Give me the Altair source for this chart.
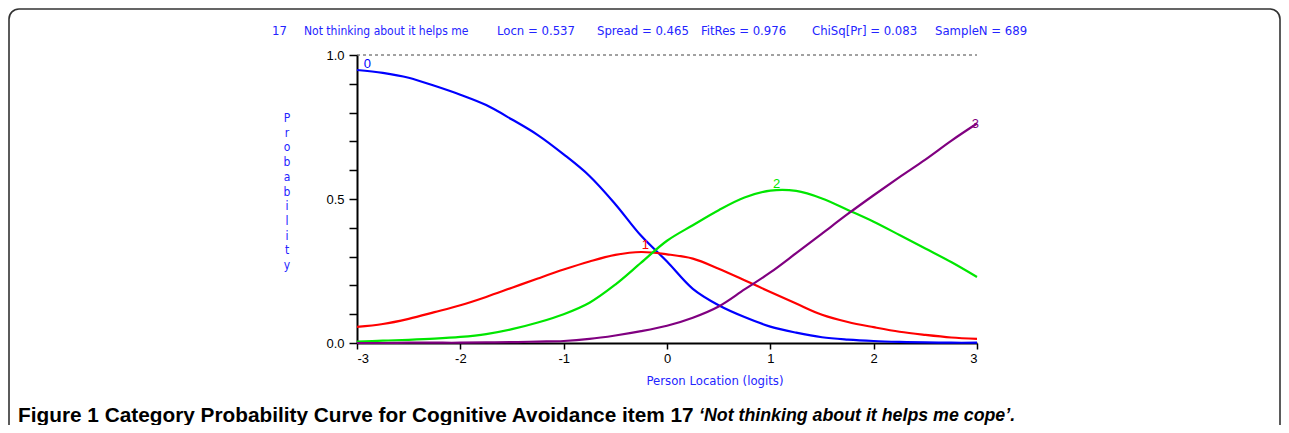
import altair as alt
import pandas as pd

# ---- data ----
x_vals = [-3.0, -2.75, -2.5, -2.25, -2.0, -1.75, -1.5, -1.25, -1.0, -0.75, -0.5, -0.25,
          0.0, 0.25, 0.5, 0.75, 1.0, 1.25, 1.5, 1.75, 2.0, 2.25, 2.5, 2.75, 3.0]
cat0 = [0.948, 0.938, 0.921, 0.893, 0.862, 0.826, 0.776, 0.722, 0.655, 0.580, 0.482, 0.372,
        0.283, 0.188, 0.131, 0.090, 0.057, 0.036, 0.020, 0.012, 0.007, 0.004, 0.002, 0.001, 0.001]
cat1 = [0.056, 0.066, 0.084, 0.107, 0.131, 0.160, 0.192, 0.224, 0.255, 0.283, 0.306, 0.316,
        0.308, 0.293, 0.258, 0.218, 0.177, 0.137, 0.098, 0.073, 0.055, 0.039, 0.028, 0.019, 0.014]
cat2 = [0.005, 0.008, 0.011, 0.015, 0.021, 0.031, 0.048, 0.071, 0.100, 0.140, 0.203, 0.279,
        0.355, 0.409, 0.461, 0.505, 0.529, 0.528, 0.502, 0.462, 0.421, 0.375, 0.328, 0.281, 0.229]
cat3 = [0.000, 0.000, 0.001, 0.001, 0.001, 0.002, 0.003, 0.005, 0.007, 0.014, 0.026, 0.041,
        0.060, 0.088, 0.127, 0.186, 0.245, 0.312, 0.380, 0.448, 0.513, 0.576, 0.637, 0.702, 0.762]

curve_names = ["0", "1", "2", "3"]
curve_colors = ["#0000FF", "#FF0000", "#00E600", "#800080"]

label_x = [-2.9, -0.21, 1.06, 2.985]
label_p = [0.969, 0.34, 0.552, 0.760]

x_ticks = [-3, -2, -1, 0, 1, 2, 3]
y_ticks = [0.0, 0.1, 0.2, 0.3, 0.4, 0.5, 0.6, 0.7, 0.8, 0.9, 1.0]

header_items = ["17", "Not thinking about it helps me", "Locn = 0.537", "Spread = 0.465",
                "FitRes = 0.976", "ChiSq[Pr] = 0.083", "SampleN = 689"]
header_offsets = [-85, -53, 140, 240, 344, 455, 578]
header_sizes = [13, 12, 13, 13, 13, 13, 13]

caption_main = "Figure 1 Category Probability Curve for Cognitive Avoidance item 17"
caption_item = "\u2018Not thinking about it helps me cope\u2019."
y_title = "Probability"
x_title = "Person Location (logits)"

# ---- tables ----
rows = []
for name, ys in zip(curve_names, [cat0, cat1, cat2, cat3]):
    for xv, yv in zip(x_vals, ys):
        rows.append({"loc": xv, "prob": yv, "cat": name})
df = pd.DataFrame(rows)
labels_df = pd.DataFrame({"loc": label_x, "prob": label_p, "cat": curve_names})

W, H = 620, 288
BLUE = "#2424ff"
HFONT = "Liberation Sans Narrow, Arial Narrow, DejaVu Sans Condensed, sans-serif"

xscale = alt.Scale(domain=[-3, 3], nice=False, zero=False)
yscale = alt.Scale(domain=[0, 1], nice=False)
cscale = alt.Scale(domain=curve_names, range=curve_colors)

x_axis = alt.Axis(values=x_ticks, labelExpr="'' + datum.value", grid=False,
                  domainColor="black", domainWidth=2, tickColor="black", tickWidth=1.5,
                  tickSize=6, labelPadding=3, labelFont="Liberation Sans", labelFontSize=13,
                  labelColor="black", labelOverlap=False, title=None)
y_axis = alt.Axis(values=y_ticks,
                  labelExpr="abs(datum.value*2 - round(datum.value*2)) < 0.001 ? format(datum.value, '.1f') : ''",
                  grid=False, domainColor="black", domainWidth=2, tickColor="black",
                  tickWidth=1.5, tickSize=8, labelPadding=5, labelFont="Liberation Sans",
                  labelFontSize=13, labelColor="black", labelOverlap=False, title=None)

base = alt.Chart(df)

border = alt.Chart(pd.DataFrame({"a": [0]})).mark_rect(
    fillOpacity=0, stroke="#333333", strokeWidth=1.6, cornerRadius=10
).encode(x=alt.value(-348), x2=alt.value(923), y=alt.value(-46), y2=alt.value(600))

lines = base.mark_line(strokeWidth=2.2, interpolate="catmull-rom").encode(
    x=alt.X("loc:Q", scale=xscale, axis=x_axis),
    y=alt.Y("prob:Q", scale=yscale, axis=y_axis),
    color=alt.Color("cat:N", scale=cscale, legend=None),
)

top_rule = alt.Chart(pd.DataFrame({"a": [0]})).mark_rule(
    color="#444444", strokeDash=[3, 3], strokeWidth=1
).encode(y=alt.datum(1, scale=yscale, axis=y_axis), x=alt.value(0), x2=alt.value(W))

curve_labels = alt.Chart(labels_df).mark_text(
    font="Liberation Sans", fontSize=13, baseline="middle"
).encode(
    x=alt.X("loc:Q", scale=xscale, axis=x_axis),
    y=alt.Y("prob:Q", scale=yscale, axis=y_axis),
    text="cat:N",
    color=alt.Color("cat:N", scale=cscale, legend=None),
)

layers = [border, lines, top_rule, curve_labels]

for item, off, sz in zip(header_items, header_offsets, header_sizes):
    layers.append(
        alt.Chart(pd.DataFrame({"a": [0]})).mark_text(
            font=HFONT, fontSize=sz, color=BLUE, align="left", baseline="middle"
        ).encode(x=alt.value(off), y=alt.value(-24), text=alt.value(item))
    )

layers.append(
    alt.Chart(pd.DataFrame({"a": [0]})).mark_text(
        font=HFONT, fontSize=12, color=BLUE, align="center", baseline="top", lineHeight=14.7
    ).encode(x=alt.value(-70), y=alt.value(58), text=alt.value(list(y_title)))
)
layers.append(
    alt.Chart(pd.DataFrame({"a": [0]})).mark_text(
        font=HFONT, fontSize=13, color=BLUE, align="center", baseline="middle"
    ).encode(x=alt.value(358), y=alt.value(326), text=alt.value(x_title))
)
layers.append(
    alt.Chart(pd.DataFrame({"a": [0]})).mark_text(
        font="Liberation Sans", fontSize=20.8, fontWeight="bold", color="black",
        align="left", baseline="middle"
    ).encode(x=alt.value(-339), y=alt.value(361), text=alt.value(caption_main))
)
layers.append(
    alt.Chart(pd.DataFrame({"a": [0]})).mark_text(
        font="Liberation Sans", fontSize=17.8, fontWeight="bold", fontStyle="italic",
        color="black", align="left", baseline="middle"
    ).encode(x=alt.value(342), y=alt.value(361), text=alt.value(caption_item))
)

chart = alt.layer(*layers).properties(
    width=W, height=H,
    autosize=alt.AutoSizeParams(type="none"),
    padding={"left": 349, "top": 47, "right": 304, "bottom": 82},
).configure_view(stroke=None).configure_axis(labelOverlap=False)

chart.save("out.html", embed_options={"renderer": "svg", "actions": False})
